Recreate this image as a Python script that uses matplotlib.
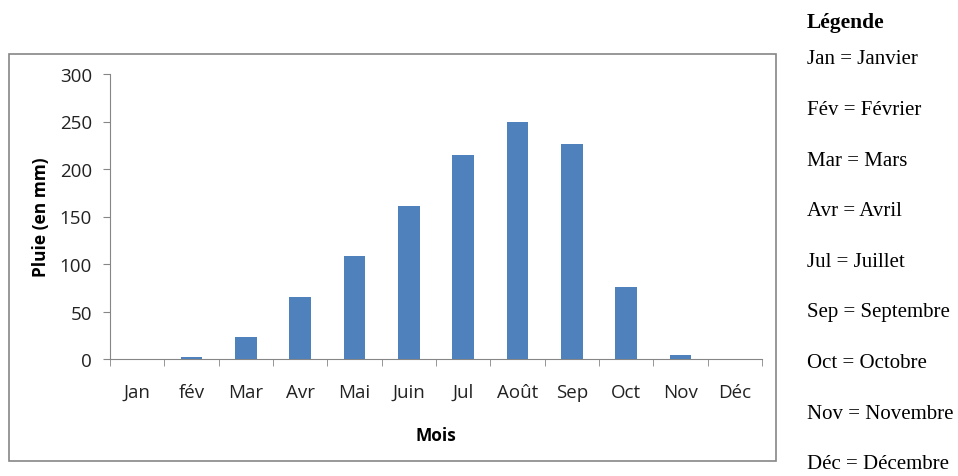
import numpy as np
import matplotlib.pyplot as plt
from matplotlib.patches import Rectangle

# data
mois = ['Jan', 'fév', 'Mar', 'Avr', 'Mai', 'Juin', 'Jul', 'Août', 'Sep', 'Oct', 'Nov', 'Déc']
pluie = [0, 2, 23, 65, 108, 161, 215, 249, 226, 76, 4, 0]
legende = ['Jan = Janvier', 'Fév = Février', 'Mar = Mars', 'Avr = Avril',
           'Jul = Juillet', 'Sep = Septembre', 'Oct = Octobre',
           'Nov = Novembre', 'Déc = Décembre']

W, H = 958, 477
fig = plt.figure(figsize=(W / 100, H / 100), dpi=100)
plt.rcParams['font.family'] = ['Open Sans', 'DejaVu Sans']

# chart frame (Excel style box)
fig.patches.append(Rectangle((9 / W, 1 - 462 / H), (776 - 9) / W, (462 - 55) / H,
                             transform=fig.transFigure, fill=False,
                             edgecolor='#868686', linewidth=1.2))

ax = fig.add_axes([110 / W, 1 - 360 / H, (762 - 110) / W, (360 - 75) / H])
x = np.arange(len(mois))
ax.bar(x, pluie, width=0.4, color='#4F81BD', zorder=3)

ax.set_xlim(-0.5, len(mois) - 0.5)
ax.set_ylim(0, 300)
ax.set_yticks(range(0, 301, 50))
ax.set_xticks(x)
ax.set_xticklabels(mois)
ax.set_xticks(np.arange(-0.5, len(mois)), minor=True)
ax.tick_params(axis='x', which='major', length=0, pad=17, labelsize=13.5, colors='#222222')
ax.tick_params(axis='x', which='minor', length=5, color='#868686')
ax.tick_params(axis='y', length=5, color='#868686', labelsize=13.5, pad=8, labelcolor='#222222')

for s in ['top', 'right']:
    ax.spines[s].set_visible(False)
for s in ['left', 'bottom']:
    ax.spines[s].set_color('#868686')

ax.set_ylabel('Pluie (en mm)', fontsize=12.5, fontweight='bold', labelpad=7)
ax.set_xlabel('Mois', fontsize=12.5, fontweight='bold', labelpad=18)

# legend text on the right
serif = ['Liberation Serif', 'DejaVu Serif']
fig.text(807 / W, 1 - 23 / H, 'Légende', family=serif, fontsize=15.5,
         fontweight='bold', va='center', ha='left')
for i, t in enumerate(legende):
    fig.text(807 / W, 1 - (60 + i * 50.6) / H, t, family=serif, fontsize=15,
             va='center', ha='left')

fig.savefig('out.png', dpi=100)
